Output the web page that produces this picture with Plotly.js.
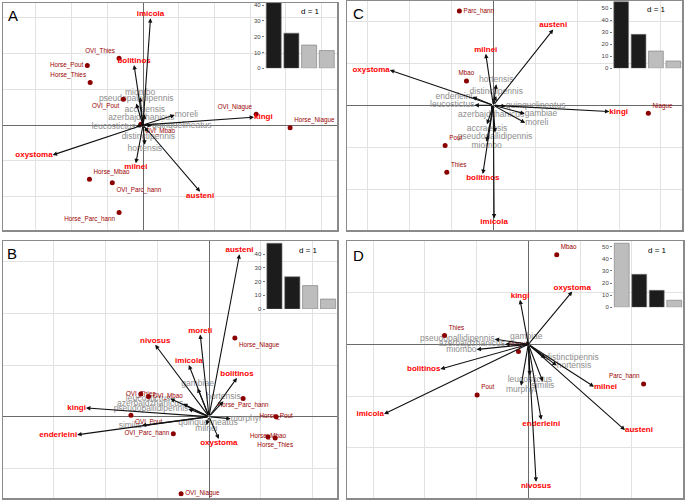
<!DOCTYPE html>
<html><head><meta charset="utf-8">
<script src="https://cdn.plot.ly/plotly-3.0.1.min.js"></script>
<style>html,body{margin:0;padding:0;background:#fff}</style>
</head><body>
<div id="chart" style="width:685px;height:501px"></div>
<script>
// ---------------- DATA ----------------
// Panel A
const A_major = ['imicola','bolitinos','kingi','oxystoma','milnei','austeni'];
const A_majorX = [0.21,-0.25,3.11,-2.53,-0.20,1.60];
const A_majorY = [2.99,1.68,0.22,-0.84,-1.07,-1.87];
const A_minor = ['miombo','pseudopallidipennis','moreli','leucostictus','distinctipennis','hortensis','azerbajdzhanicus','accraensis','quinquelineatus'];
const A_minorX = [-0.08,-0.19,0.89,-0.20,0.15,0.05,-0.05,0.05,0.25];
const A_minorY = [0.78,0.60,0.28,-0.05,-0.20,-0.55,0.08,0.30,-0.02];
const A_sites = ['OVI_Thies','Horse_Pout','Horse_Thies','OVI_Pout','OVI_Niague','Horse_Niague','OVI_Mbao','Horse_Mbao','OVI_Parc_hann','Horse_Parc_hann'];
const A_sitesX = [-0.67,-1.56,-1.48,-0.55,3.17,4.12,-0.06,-1.50,-0.86,-0.67];
const A_sitesY = [1.87,1.67,1.19,0.72,0.30,-0.08,0.02,-1.52,-1.62,-2.45];
const A_eig = [41.5,22.2,14.7,11.2];

// Panel B
const B_major = ['austeni','moreli','nivosus','imicola','bolitinos','kingi','enderleini','oxystoma'];
const B_majorX = [0.59,-0.17,-1.04,-0.39,0.54,-2.38,-2.55,0.19];
const B_majorY = [3.14,1.59,1.39,1.00,0.75,0.17,-0.35,-0.43];
const B_minor = ['gambiae','hortensis','leucostictus','pseudopallidipennis','similis','azerbajdzhanicus','quinquelineatus','milnei','murphyi'];
const B_minorX = [-0.22,0.28,-0.75,-0.40,-1.30,-0.50,-0.02,-0.05,0.42];
const B_minorY = [0.55,0.30,0.35,0.15,-0.17,0.25,-0.04,-0.16,-0.04];
const B_sites = ['Horse_Niague','Horse_Parc_hann','Horse_Pout','Horse_Mbao','Horse_Thies','OVI_Thies','OVI_Mbao','OVI_Pout','OVI_Parc_hann','OVI_Niague'];
const B_sitesX = [0.50,0.66,1.30,1.14,1.28,-1.32,-1.17,-1.51,-0.69,-0.54];
const B_sitesY = [1.52,0.35,0.00,-0.39,-0.41,0.44,0.39,0.03,-0.33,-1.49];
const B_eig = [48.1,23.6,17.1,7.3];

// Panel C
const C_major = ['austeni','milnei','oxystoma','kingi','bolitinos','imicola'];
const C_majorX = [1.43,-0.18,-2.47,2.77,-0.25,0.02];
const C_majorY = [1.81,1.23,0.84,-0.15,-1.64,-2.70];
const C_minor = ['hortensis','distinctipennis','enderleini','leucostictus','azerbajdzhanicus','accraensis','pseudopallidipennis','miombo','gambiae','moreli','quinquelineatus'];
const C_minorX = [0.07,0.07,-0.50,-0.45,-0.05,-0.15,0.04,-0.16,0.75,0.76,0.30];
const C_minorY = [0.50,0.22,0.20,0.00,-0.12,-0.45,-0.65,-0.87,-0.20,-0.42,-0.02];
const C_sites = ['Parc_hann','Mbao','Niague','Pout','Thies'];
const C_sitesX = [-0.81,-0.64,3.70,-1.15,-1.11];
const C_sitesY = [2.25,0.58,-0.19,-0.96,-1.60];
const C_eig = [55.5,28.3,14.4,6.1];

// Panel D
const D_major = ['oxystoma','kingi','bolitinos','imicola','milnei','austeni','enderleini','nivosus'];
const D_majorX = [0.85,-0.16,-1.70,-2.79,1.27,1.87,0.25,0.15];
const D_majorY = [1.02,0.86,-0.48,-1.35,-0.82,-1.66,-1.46,-2.66];
const D_minor = ['pseudopallidipennis','miombo','distinctipennis','hortensis','leucostictus','murphyi','similis','gambiae','azerbajdzhanicus'];
const D_minorX = [-0.65,-1.00,0.33,0.55,0.03,-0.14,0.28,-0.04,-0.45];
const D_minorY = [0.10,-0.10,-0.27,-0.41,-0.60,-0.80,-0.72,0.06,0.00];
const D_sites = ['Mbao','Thies','Pout','Parc_hann','Niague'];
const D_sitesX = [0.55,-1.62,-0.99,2.23,-0.19];
const D_sitesY = [1.73,0.17,-0.98,-0.77,-0.14];
const D_eig = [52.8,27.2,14.0,5.8];

// ---------------- STYLE / LAYOUT ----------------
const W = 685, H = 501;
const px = v => v / W, py = v => 1 - v / H;
const BLACK = '#1c1c1c', GREY = '#bdbdbd';
const FONT = 'Liberation Sans, Arial, sans-serif';

function tpos(x, y) {
  return Math.abs(x) > Math.abs(y) ? (x > 0 ? 'middle right' : 'middle left')
                                   : (y > 0 ? 'top center' : 'bottom center');
}

const panels = [
  {letter:'A', n:1, major:A_major, mx:A_majorX, my:A_majorY, minor:A_minor, nx:A_minorX, ny:A_minorY,
   sites:A_sites, sx:A_sitesX, sy:A_sitesY, eig:A_eig, eigCol:[BLACK,BLACK,GREY,GREY],
   sitePos:['top left','middle left','top left','bottom left','top left','top right','bottom right','top right','bottom right','bottom left'],
   box:[3,3,337,230], origin:[143,125], unit:35.7,
   inset:{x0:264.9,x1:335.6,ytop:3,y0:68.3,ppu:1.5825}, letterPos:[13,15], dPos:[310,11]},
  {letter:'C', n:2, major:C_major, mx:C_majorX, my:C_majorY, minor:C_minor, nx:C_minorX, ny:C_minorY,
   sites:C_sites, sx:C_sitesX, sy:C_sitesY, eig:C_eig, eigCol:[BLACK,BLACK,GREY,GREY],
   sitePos:['middle right','top center','top right','top right','top right'],
   box:[347,1,682,230], origin:[493.3,105.3], unit:41.9,
   inset:{x0:612.5,x1:682,ytop:1,y0:68.3,ppu:1.2}, letterPos:[358,14], dPos:[656,9.5]},
  {letter:'B', n:3, major:B_major, mx:B_majorX, my:B_majorY, minor:B_minor, nx:B_minorX, ny:B_minorY,
   sites:B_sites, sx:B_sitesX, sy:B_sitesY, eig:B_eig, eigCol:[BLACK,BLACK,GREY,GREY],
   sitePos:['bottom right','bottom center','middle center','middle center','bottom center','middle center','middle right','bottom right','middle left','middle right'],
   box:[3,241,337,498], origin:[209,416.7], unit:51.7,
   inset:{x0:265.5,x1:337,ytop:241,y0:309,ppu:1.367}, letterPos:[12,253], dPos:[308,250]},
  {letter:'D', n:4, major:D_major, mx:D_majorX, my:D_majorY, minor:D_minor, nx:D_minorX, ny:D_minorY,
   sites:D_sites, sx:D_sitesX, sy:D_sitesY, eig:D_eig, eigCol:[GREY,BLACK,BLACK,GREY],
   sitePos:['top right','top right','top right','top left','top center'],
   box:[347,241,683,498], origin:[528.3,344.3], unit:51.7,
   inset:{x0:613,x1:683,ytop:241,y0:307.3,ppu:1.213}, letterPos:[358,256], dPos:[657,250]}
];

const traces = [];
const annotations = [];
const layout = {
  width: W, height: H, margin:{l:0,r:0,t:0,b:0}, showlegend:false,
  paper_bgcolor:'#ffffff', plot_bgcolor:'rgba(0,0,0,0)', hovermode:false,
  font:{family:FONT}
};

panels.forEach(p => {
  const s = p.n === 1 ? '' : String(p.n);
  const xa = 'x' + s, ya = 'y' + s;
  const [bx0, by0, bx1, by1] = p.box;
  const [ox, oy] = p.origin;
  layout['xaxis' + s] = {
    domain:[px(bx0), px(bx1)], range:[(bx0-ox)/p.unit, (bx1-ox)/p.unit], anchor:ya,
    showgrid:true, gridcolor:'#e2e2e2', gridwidth:1, tick0:0, dtick:1,
    zeroline:true, zerolinecolor:'#6a6a6a', zerolinewidth:1,
    showticklabels:false, ticks:'', showline:true, mirror:true, linecolor:'#8a8a8a', linewidth:1.5, fixedrange:true
  };
  layout['yaxis' + s] = {
    domain:[py(by1), py(by0)], range:[(oy-by1)/p.unit, (oy-by0)/p.unit], anchor:xa,
    showgrid:true, gridcolor:'#e2e2e2', gridwidth:1, tick0:0, dtick:1,
    zeroline:true, zerolinecolor:'#6a6a6a', zerolinewidth:1,
    showticklabels:false, ticks:'', showline:true, mirror:true, linecolor:'#8a8a8a', linewidth:1.5, fixedrange:true
  };

  // minor species labels (grey)
  traces.push({type:'scatter', mode:'text', xaxis:xa, yaxis:ya, x:p.nx, y:p.ny, text:p.minor,
    textposition:p.nx.map((v,i)=>tpos(v,p.ny[i])),
    textfont:{family:FONT, size:8.5, color:'#8e8e8e'}, cliponaxis:false});
  // sites
  traces.push({type:'scatter', mode:'markers+text', xaxis:xa, yaxis:ya, x:p.sx, y:p.sy, text:p.sites,
    textposition:p.sitePos, marker:{size:5, color:'#8b0000'},
    textfont:{family:FONT, size:6.3, color:'#9a0000'}, cliponaxis:false});
  // major species labels (red)
  traces.push({type:'scatter', mode:'text', xaxis:xa, yaxis:ya, x:p.mx, y:p.my, text:p.major.map(t=>'<b>'+t+'</b>'),
    textposition:p.mx.map((v,i)=>tpos(v,p.my[i])),
    textfont:{family:FONT, size:8, color:'#ff0000'}, cliponaxis:false});

  // arrows
  const addArrow = (x, y) => annotations.push({x:x, y:y, ax:0, ay:0, xref:xa, yref:ya, axref:xa, ayref:ya,
    text:'', showarrow:true, arrowhead:2, arrowsize:0.8, arrowwidth:1.1, arrowcolor:'#111', standoff:0, startstandoff:0});
  p.nx.forEach((v,i)=>addArrow(v, p.ny[i]));
  p.mx.forEach((v,i)=>addArrow(v, p.my[i]));

  // inset eigenvalue bars
  const si = String(p.n + 4);
  const ix = 'x' + si, iy = 'y' + si;
  const I = p.inset;
  layout['xaxis' + si] = {domain:[px(I.x0), px(I.x1)], range:[0.5,4.5], anchor:iy,
    showgrid:false, zeroline:false, showticklabels:false, ticks:'', showline:false, fixedrange:true};
  layout['yaxis' + si] = {domain:[py(I.y0), py(I.ytop)], range:[0,(I.y0-I.ytop)/I.ppu], anchor:ix,
    showgrid:false, zeroline:false, tickvals:[0,10,20,30,40,50], ticks:'outside', ticklen:2, tickcolor:'#777',
    tickfont:{family:FONT, size:6, color:'#444'}, showline:false, fixedrange:true};
  traces.push({type:'bar', xaxis:ix, yaxis:iy, x:[1,2,3,4], y:p.eig, width:0.85,
    marker:{color:p.eigCol, line:{color:'#777', width:0.6}}, cliponaxis:true});

  annotations.push({xref:'paper', yref:'paper', x:px(p.letterPos[0]), y:py(p.letterPos[1]), text:p.letter,
    showarrow:false, font:{family:FONT, size:15, color:'#000'}, xanchor:'center', yanchor:'middle'});
  annotations.push({xref:'paper', yref:'paper', x:px(p.dPos[0]), y:py(p.dPos[1]), text:'d = 1',
    showarrow:false, font:{family:FONT, size:8, color:'#000'}, xanchor:'center', yanchor:'middle'});
});

layout.annotations = annotations;
Plotly.newPlot('chart', traces, layout, {staticPlot:true, displayModeBar:false});
</script>
</body></html>
